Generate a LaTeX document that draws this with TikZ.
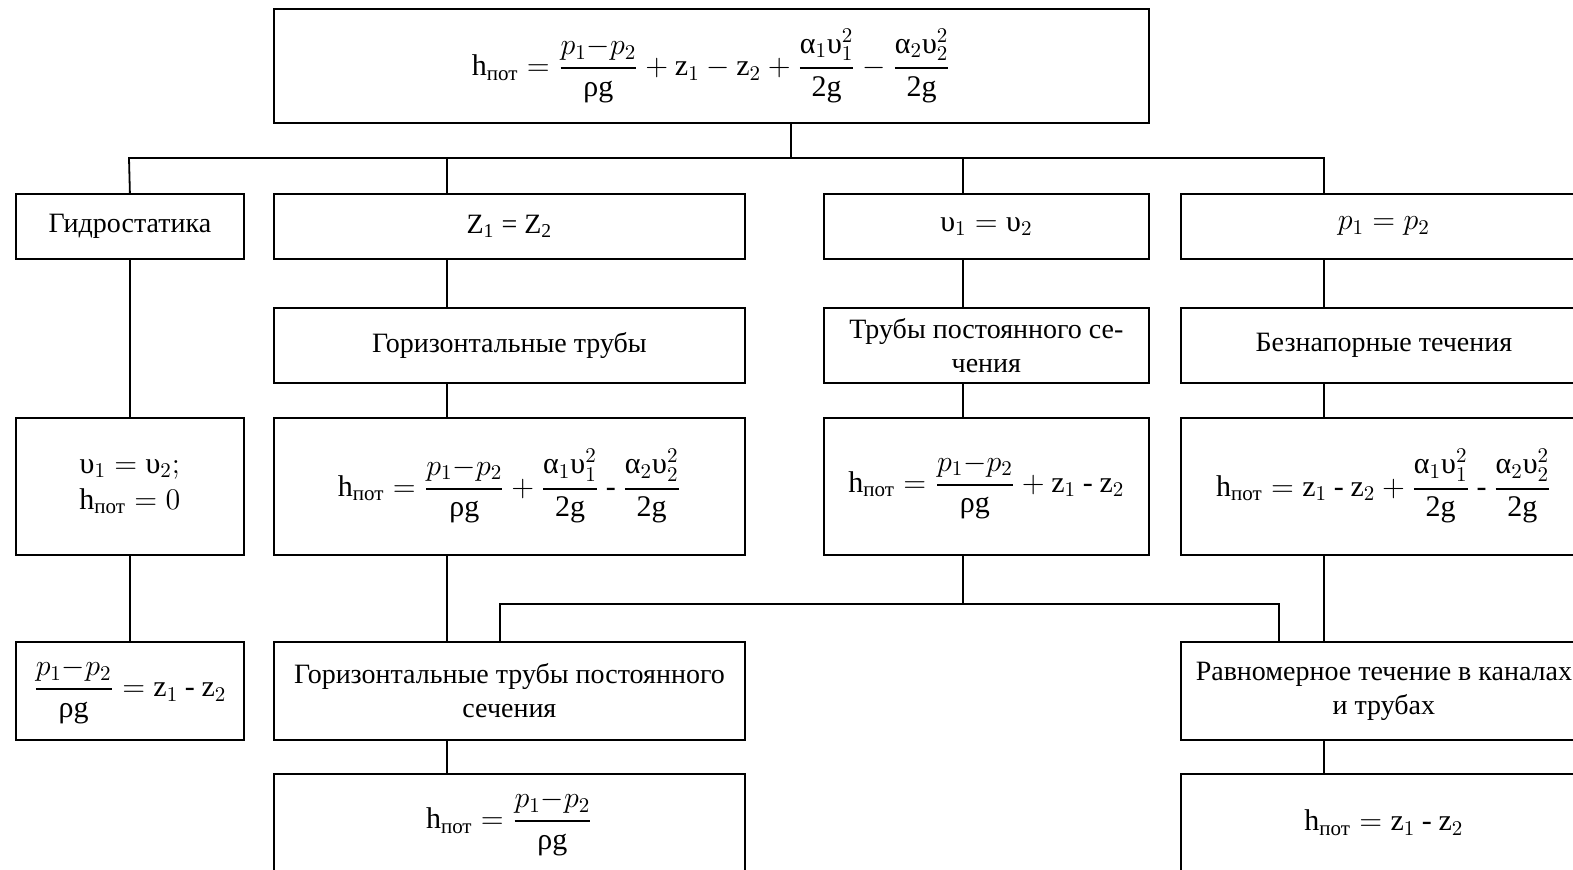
\RequirePackage{fix-cm}
\documentclass[tikz,border=0pt]{standalone}
\usepackage{amsmath}
\usepackage{fontspec}
\setmainfont{Liberation Serif}
\usepackage{tikz}
\usetikzlibrary{calc, positioning}

\newcommand{\hpot}{\text{h}_{\text{пот}}}
\newcommand{\ups}{\text{υ}}
\newcommand{\hy}{\mathbin{\text{-}}}
\newcommand{\zz}[1]{\text{z}_{#1}}
\newcommand{\fr}[2]{\genfrac{}{}{1.1pt}{0}{#1}{#2}}
\newcommand{\dpres}{\fr{p_1{-}p_2}{\text{ρg}}}
\newcommand{\aone}{\fr{\text{α}_1\text{υ}_1^{2}}{\text{2g}}}
\newcommand{\atwo}{\fr{\text{α}_2\text{υ}_2^{2}}{\text{2g}}}

\begin{document}
\begin{tikzpicture}[
    x=0.5pt, y=-0.5pt,
    box/.style={draw, line width=0.9pt, anchor=north west, inner sep=2pt, align=center,
        font=\fontsize{14}{17}\selectfont},
    eqn/.style={font=\fontsize{15}{18}\selectfont},
    boxsize/.style 2 args={minimum width=#1*0.5pt, minimum height=#2*0.5pt},
    link/.style={draw, line width=0.9pt}
]
    \useasboundingbox (0,0) rectangle (1573,869);
    \clip (0,0) rectangle (1573,869);

    % top formula
    \node [box, eqn, boxsize={875}{114}] (top) at (273,8)
        {$\hpot=\dpres+\zz{1}-\zz{2}+\aone-\atwo$};

    % first row
    \node [box, boxsize={228}{65}] (gidro) at (15,193) {Гидростатика};
    \node [box, boxsize={471}{65}] (z12) at (273,193) {Z\textsubscript{1} = Z\textsubscript{2}};
    \node [box, eqn, boxsize={325}{65}] (v12) at (823,193) {$\ups_1=\ups_2$};
    \node [box, eqn, boxsize={406}{65}] (p12) at (1180,193) {$p_1=p_2$};

    % second row
    \node [box, boxsize={471}{75}] (hor) at (273,307) {Горизонтальные трубы};
    \node [box, boxsize={325}{75}] (tpost) at (823,307) {Трубы постоянного се-\\чения};
    \node [box, boxsize={406}{75}] (beznap) at (1180,307) {Безнапорные течения};

    % third row
    \node [box, eqn, boxsize={228}{137}] (hzero) at (15,417) {$\ups_1=\ups_2;$\\$\hpot=0$};
    \node [box, eqn, boxsize={471}{137}] (fhor) at (273,417)
        {$\hpot=\dpres+\aone\hy\atwo$};
    \node [box, eqn, boxsize={325}{137}] (ftpost) at (823,417)
        {$\hpot=\dpres+\zz{1}\hy\zz{2}$};
    \node [box, eqn, boxsize={406}{137}] (fbez) at (1180,417)
        {$\hpot=\zz{1}\hy\zz{2}+\aone\hy\atwo$};

    % fourth row
    \node [box, eqn, boxsize={228}{98}] (fgid) at (15,641) {$\dpres=\zz{1}\hy\zz{2}$};
    \node [box, boxsize={471}{98}] (hortp) at (273,641) {Горизонтальные трубы постоянного\\сечения};
    \node [box, boxsize={406}{98}] (ravn) at (1180,641) {Равномерное течение в каналах\\и трубах};

    % fifth row
    \node [box, eqn, boxsize={471}{98}] (fhortp) at (273,773) {$\hpot=\dpres$};
    \node [box, eqn, boxsize={406}{98}] (fravn) at (1180,773) {$\hpot=\zz{1}\hy\zz{2}$};

    % branch points
    \coordinate (cT) at (791,158);
    \coordinate (cA) at (129,158);
    \coordinate (cB) at (447,158);
    \coordinate (cC) at (963,158);
    \coordinate (cD) at (1324,158);
    \coordinate (dB) at (500,604);
    \coordinate (dC) at (963,604);
    \coordinate (dD) at (1279,604);

    % upper bus
    \draw [link] (top.south -| cT) -- (cT);
    \draw [link] (gidro.north) -- (cA) -- (cD) -- (cD |- p12.north);
    \draw [link] (cB) -- (cB |- z12.north);
    \draw [link] (cC) -- (cC |- v12.north);

    % columns
    \draw [link] (gidro.south) -- (hzero.north);
    \draw [link] (hzero.south) -- (fgid.north);
    \draw [link] (cB |- z12.south) -- (cB |- hor.north);
    \draw [link] (cB |- hor.south) -- (cB |- fhor.north);
    \draw [link] (cB |- fhor.south) -- (cB |- hortp.north);
    \draw [link] (cB |- hortp.south) -- (cB |- fhortp.north);
    \draw [link] (cC |- v12.south) -- (cC |- tpost.north);
    \draw [link] (cC |- tpost.south) -- (cC |- ftpost.north);
    \draw [link] (cD |- p12.south) -- (cD |- beznap.north);
    \draw [link] (cD |- beznap.south) -- (cD |- fbez.north);
    \draw [link] (cD |- fbez.south) -- (cD |- ravn.north);
    \draw [link] (cD |- ravn.south) -- (cD |- fravn.north);

    % lower bus
    \draw [link] (cC |- ftpost.south) -- (dC);
    \draw [link] (dB |- hortp.north) -- (dB) -- (dD) -- (dD |- ravn.north);

\end{tikzpicture}
\end{document}
